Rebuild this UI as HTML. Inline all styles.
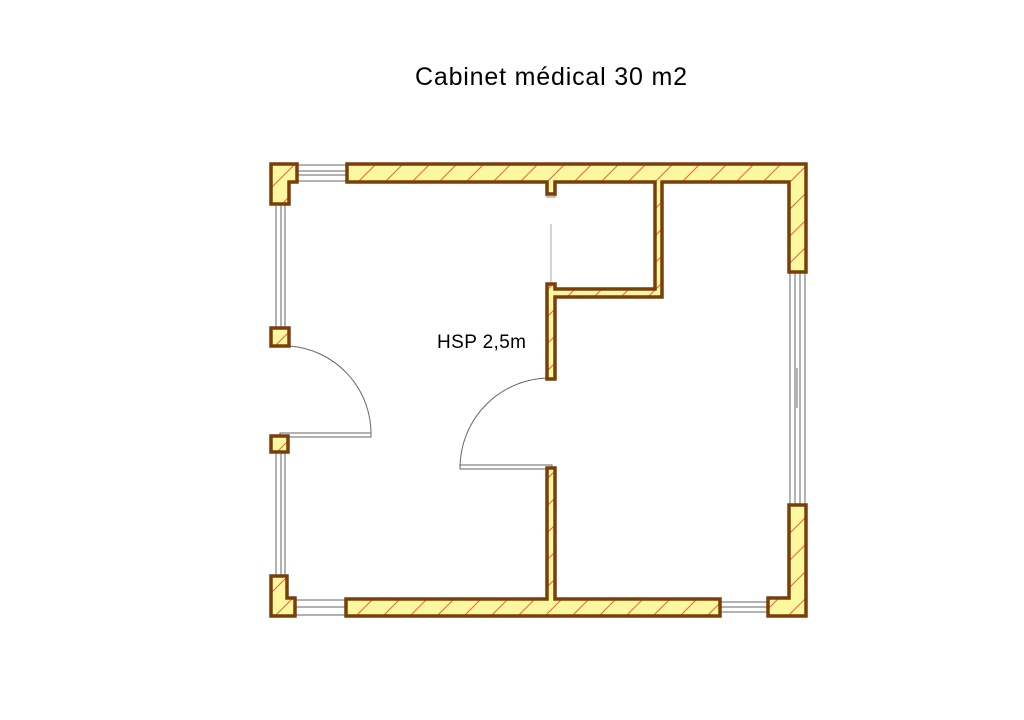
<!DOCTYPE html>
<html><head><meta charset="utf-8"><style>
html,body{margin:0;padding:0;background:#fff;}
svg{display:block;}
</style></head><body>
<svg width="1024" height="720" viewBox="0 0 1024 720" xmlns="http://www.w3.org/2000/svg">
<defs>
<pattern id="h" patternUnits="userSpaceOnUse" width="27" height="27">
<rect width="27" height="27" fill="#fbf8a0"/>
<line x1="0" y1="27" x2="27" y2="0" stroke="#f0603a" stroke-width="1"/>
</pattern>
</defs>
<text x="415" y="85" font-family="Liberation Sans, sans-serif" font-size="25" textLength="272" fill="#000">Cabinet médical 30 m2</text>
<text x="437" y="348" font-family="Liberation Sans, sans-serif" font-size="19" textLength="89" fill="#000">HSP 2,5m</text>

<g stroke="#666" stroke-width="1" fill="none">
<line x1="297" y1="165" x2="347" y2="165"/><line x1="297" y1="171" x2="347" y2="171"/><line x1="297" y1="175" x2="347" y2="175"/><line x1="297" y1="181" x2="347" y2="181"/>
<line x1="276" y1="204" x2="276" y2="328"/><line x1="281" y1="204" x2="281" y2="328"/><line x1="285" y1="204" x2="285" y2="328"/>
<line x1="276" y1="452" x2="276" y2="576"/><line x1="281" y1="452" x2="281" y2="576"/><line x1="285" y1="452" x2="285" y2="576"/>
<line x1="295" y1="600" x2="346" y2="600"/><line x1="295" y1="607" x2="346" y2="607"/><line x1="295" y1="615" x2="346" y2="615"/>
<line x1="720" y1="602" x2="768" y2="602"/><line x1="720" y1="607" x2="768" y2="607"/><line x1="720" y1="612" x2="768" y2="612"/>
<line x1="790" y1="272" x2="790" y2="505"/><line x1="795" y1="272" x2="795" y2="505"/><line x1="800" y1="272" x2="800" y2="505"/><line x1="805" y1="272" x2="805" y2="505"/>
<line x1="797" y1="368" x2="797" y2="408"/>
<path d="M289 346 A88 88 0 0 1 371 436"/>
<rect x="280" y="433" width="91" height="4"/>
<path d="M460 468 A90 90 0 0 1 550 378"/>
<rect x="460" y="465" width="92" height="4"/>
<line x1="551" y1="224" x2="551" y2="284" stroke="#aaa"/>
<rect x="547" y="194" width="8" height="3" stroke="#888"/>
</g>

<g fill="url(#h)" stroke="#7a3e0a" stroke-width="3.5" stroke-linejoin="miter">
<path d="M271 164 H297 V182 H289 V204 H271 Z"/>
<path d="M347 164 H806 V272 H789 V182 H662 V297 H555 V379 H547 V284 H555 V289 H655 V182 H555 V194 H547 V182 H347 Z"/>
<rect x="271" y="328" width="18" height="18"/>
<rect x="271" y="436" width="17" height="16"/>
<path d="M271 576 H287 V598 H295 V616 H271 Z"/>
<path d="M346 599 H547 V468 H555 V599 H720 V616 H346 Z"/>
<path d="M789 505 H806 V616 H768 V598 H789 Z"/>
</g>
</svg>
</body></html>
